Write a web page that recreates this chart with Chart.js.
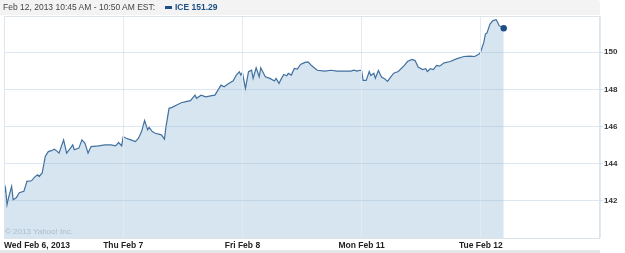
<!DOCTYPE html>
<html>
<head>
<meta charset="utf-8">
<script src="https://cdn.jsdelivr.net/npm/chart.js@4.4.0/dist/chart.umd.min.js"></script>
<style>
  body { margin: 0; background: #fff; font-family: "Liberation Sans", Arial, sans-serif; }
  #wrap { position: relative; width: 625px; height: 253px; }
  #head {
    position: absolute; left: 0; top: 0; width: 600px; height: 15px;
    background: #f3f3f3; border-top-right-radius: 3px;
    font-size: 8.5px; line-height: 15px; color: #444; white-space: nowrap;
  }
  #head .when { position: absolute; left: 3px; top: 0; }
  #head .key { position: absolute; left: 165px; top: 6px; width: 7px; height: 3px; background: #1d4f86; }
  #head .sym { position: absolute; left: 175px; top: 0; font-weight: bold; color: #1d4f86; }
  #copy { position: absolute; left: 5px; top: 227px; font-size: 8px; color: #aabccb; }
  #foot { position: absolute; left: 0; top: 250px; width: 600px; height: 3px; background: #e6e6e6; }
</style>
</head>
<body>
<div id="wrap">
  <canvas id="chart" width="625" height="253"></canvas>
  <div id="head">
    <span class="when">Feb 12, 2013 10:45 AM - 10:50 AM EST:</span>
    <span class="key"></span>
    <span class="sym">ICE 151.29</span>
  </div>
  <div id="copy">© 2013 Yahoo! Inc.</div>
  <div id="foot"></div>
</div>
<script>
// x = trading minutes since Wed Feb 6 open (390 per session)
const dayStarts = [0, 390, 780, 1170, 1560, 1950];
const dayLabels = ["Wed Feb 6, 2013", "Thu Feb 7", "Fri Feb 8", "Mon Feb 11", "Tue Feb 12", ""];
const yTickValues = [142, 144, 146, 148, 150];

const tradeMinutes = [
  0, 5, 10, 15, 25, 30, 40, 50, 65, 75, 90, 100, 110, 115, 125, 135, 145, 155, 165, 175,
  180, 195, 205, 215, 225, 230, 245, 255, 265, 275, 285, 310, 330, 350, 365, 375, 385,
  390, 400, 415, 430, 440, 450, 460, 470, 475, 485, 495, 515, 525, 530, 540, 550, 565, 580,
  595, 610, 625, 630, 645, 660, 680, 690, 700, 710, 720, 735, 750, 760, 770, 775,
  780, 790, 800, 810, 815, 825, 835, 840, 855, 870, 885, 890, 900, 905, 915, 925, 930, 940,
  950, 960, 970, 985, 995, 1005, 1015, 1025, 1050, 1070, 1090, 1115, 1135, 1145, 1155, 1165,
  1170, 1175, 1185, 1195, 1200, 1210, 1215, 1225, 1235, 1245, 1255, 1265, 1275, 1290, 1310,
  1320, 1335, 1345, 1355, 1370, 1380, 1385, 1395, 1405, 1415, 1425, 1440, 1460, 1480, 1505,
  1525, 1540, 1550, 1555,
  1560, 1570, 1575, 1580, 1590, 1600, 1610, 1615, 1620, 1635
];
const prices = [
  142.33, 142.69, 141.80, 142.17, 142.78, 142.06, 142.16, 142.44, 142.51, 143.05, 143.08, 143.28, 143.40, 143.31, 143.50, 144.39, 144.65, 144.70, 144.78, 144.65,
  144.57, 145.28, 144.57, 144.78, 145.01, 144.75, 144.84, 145.28, 145.10, 144.57, 144.92, 144.96, 145.01, 145.01, 144.96, 145.14, 144.96,
  145.46, 145.37, 145.28, 145.19, 145.37, 145.73, 146.32, 145.82, 145.96, 145.73, 145.64, 145.55, 145.32, 146.00, 146.98, 147.03, 147.16, 147.28,
  147.34, 147.39, 147.69, 147.52, 147.69, 147.60, 147.66, 147.69, 147.96, 148.23, 148.14, 148.32, 148.46, 148.77, 148.95, 148.77,
  148.90, 148.05, 148.95, 149.03, 148.59, 149.16, 148.68, 149.16, 148.68, 148.59, 148.45, 148.59, 148.32, 148.50, 148.80, 148.73, 148.86, 148.77,
  149.13, 149.09, 149.34, 149.45, 149.48, 149.30, 149.16, 149.03, 148.98, 149.03, 148.98, 148.98, 148.98, 149.03, 148.98, 149.03,
  149.02, 148.48, 148.48, 148.96, 148.75, 148.87, 148.60, 149.02, 148.66, 148.57, 148.43, 148.66, 148.87, 148.96, 149.29,
  149.50, 149.61, 149.55, 149.20, 149.07, 149.11, 148.96, 149.11, 149.07, 149.29, 149.25, 149.43, 149.50, 149.64, 149.77,
  149.79, 149.77, 149.86, 149.91,
  150.04, 150.54, 150.98, 151.03, 151.52, 151.70, 151.75, 151.61, 151.43, 151.29
];

const points = tradeMinutes.map((m, i) => ({ x: m, y: prices[i] }));
const lastIdx = points.length - 1;

// thin frame round the plot area
const frame = {
  id: "frame",
  afterDraw(chart) {
    const { ctx, chartArea: a } = chart;
    ctx.save();
    ctx.strokeStyle = "#dde4ea";
    ctx.lineWidth = 1;
    ctx.strokeRect(Math.round(a.left) + 0.5, Math.round(a.top) + 0.5,
      Math.round(a.right - a.left) - 1, Math.round(a.bottom - a.top));
    ctx.restore();
  }
};

new Chart(document.getElementById("chart"), {
  type: "line",
  data: {
    datasets: [{
      data: points,
      borderColor: "#42719f",
      borderWidth: 1.2,
      backgroundColor: "#d6e5f0",
      fill: "start",
      tension: 0,
      pointRadius: points.map((p, i) => (i === lastIdx ? 3.2 : 0)),
      pointBackgroundColor: "#1d4f86",
      pointBorderWidth: 0,
    }]
  },
  options: {
    responsive: false,
    animation: false,
    layout: { padding: { top: 16, left: 2, right: 0, bottom: 0 } },
    plugins: { legend: { display: false }, tooltip: { enabled: false } },
    scales: {
      x: {
        type: "linear",
        min: 0,
        max: 1950,
        afterBuildTicks: (s) => { s.ticks = dayStarts.map(v => ({ value: v })); },
        afterFit: (s) => { s.height = 15; s.paddingLeft = 0; s.paddingRight = 0; },
        grid: { color: "#e3eaf0", z: 1, drawTicks: false },
        border: { display: false },
        ticks: {
          align: "inner",
          padding: 3,
          maxRotation: 0,
          autoSkip: false,
          color: "#222",
          font: { family: "Liberation Sans", size: 8.5, weight: "bold" },
          callback: (v, i) => dayLabels[i]
        }
      },
      y: {
        position: "right",
        min: 140,
        max: 151.95,
        afterBuildTicks: (s) => { s.ticks = yTickValues.map(v => ({ value: v })); },
        afterFit: (s) => { s.width = 25; },
        grid: { color: "rgba(150,180,210,0.32)", z: 1, tickLength: 3 },
        border: { display: false },
        ticks: {
          padding: 1,
          color: "#333",
          font: { family: "Liberation Sans", size: 8, weight: "bold" }
        }
      }
    }
  },
  plugins: [frame]
});
</script>
</body>
</html>
